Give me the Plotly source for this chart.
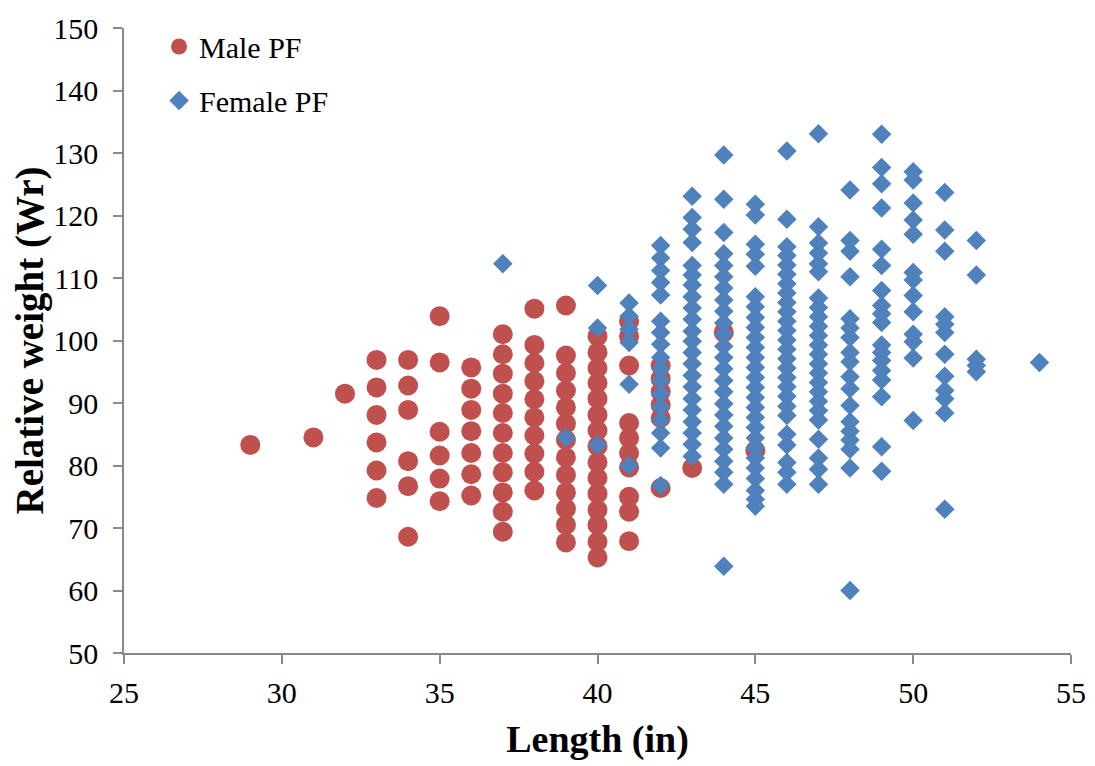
import plotly.graph_objects as go

# ---- data ----
male_lengths = [29, 31, 32, 33, 34, 35, 36, 37, 38, 39, 40, 41, 42, 43, 44, 45]
male_wr = [
    [83.3],
    [84.5],
    [91.5],
    [96.9, 92.5, 88.1, 83.7, 79.2, 74.8],
    [96.9, 92.8, 88.9, 80.7, 76.7, 68.6],
    [103.9, 96.5, 85.4, 81.6, 77.9, 74.3],
    [95.7, 92.3, 88.9, 85.5, 82.0, 78.6, 75.2],
    [101.0, 97.8, 94.7, 91.5, 88.4, 85.2, 82.0, 78.9, 75.7, 72.6, 69.4],
    [105.1, 99.3, 96.4, 93.5, 90.6, 87.7, 84.8, 81.9, 79.0, 76.0],
    [105.6, 97.6, 94.8, 92.0, 89.3, 86.7, 84.1, 81.3, 78.5, 75.7, 73.1, 70.5, 67.7],
    [100.7, 98.1, 95.6, 93.2, 90.7, 88.1, 85.6, 83.1, 80.5, 78.0, 75.5, 72.9, 70.5, 67.8, 65.3],
    [103.1, 100.7, 96.0, 86.8, 84.4, 82.0, 79.7, 75.0, 72.6, 67.9],
    [96.0, 93.9, 91.8, 89.7, 87.6, 76.4],
    [79.6],
    [101.3],
    [82.4],
]

female_lengths = [37, 39, 40, 41, 42, 43, 44, 45, 46, 47, 48, 49, 50, 51, 52, 54]
female_wr = [
    [112.3],
    [84.5],
    [108.8, 102.0, 83.3],
    [106.0, 103.9, 101.8, 99.7, 93.0, 80.0],
    [115.2, 113.2, 111.2, 109.3, 107.3, 103.1, 101.3, 99.4, 97.3, 95.5, 93.6, 91.5,
     89.4, 87.3, 85.2, 82.8, 76.8],
    [123.1, 119.7, 117.8, 115.7, 112.0, 110.5, 108.9, 107.0, 105.2, 103.4, 101.5,
     99.9, 98.1, 96.3, 94.4, 92.6, 90.7, 88.9, 87.0, 85.2, 83.4, 81.5],
    [129.7, 122.6, 117.3, 113.9, 112.0, 110.2, 108.4, 106.5, 104.7, 102.8, 101.0,
     99.1, 97.3, 95.5, 93.6, 91.8, 89.9, 88.1, 86.3, 84.4, 82.6, 80.7, 78.9, 77.0, 63.9],
    [121.8, 120.1, 115.4, 113.8, 111.9, 107.0, 105.4, 103.7, 102.1, 100.5, 98.9,
     97.3, 95.7, 94.1, 92.5, 90.9, 89.3, 87.7, 86.1, 84.4, 82.8, 81.2, 79.6, 77.9,
     76.0, 74.6, 73.5],
    [130.3, 119.4, 115.0, 113.6, 112.1, 110.6, 109.1, 107.6, 106.1, 104.6, 103.1,
     101.6, 100.1, 98.6, 97.1, 95.6, 94.1, 92.6, 91.1, 89.5, 88.0, 85.0, 83.3, 80.5,
     78.9, 77.0],
    [133.1, 118.2, 115.6, 114.0, 112.3, 111.0, 106.8, 105.3, 103.8, 102.3, 100.8,
     99.3, 97.8, 96.3, 94.8, 93.3, 91.8, 90.3, 88.8, 87.3, 84.2, 81.2, 79.4, 77.0],
    [124.1, 116.0, 114.3, 110.2, 103.5, 102.0, 100.5, 98.1, 96.6, 94.2, 92.3, 89.6,
     87.0, 85.5, 84.1, 82.6, 79.6, 60.0],
    [133.0, 127.7, 125.1, 121.2, 114.6, 112.0, 108.0, 105.6, 104.3, 102.9, 99.3,
     98.1, 96.8, 95.2, 93.7, 91.0, 83.0, 79.1],
    [127.0, 125.7, 122.0, 119.3, 117.0, 110.9, 109.7, 107.2, 104.6, 101.0, 99.8,
     97.2, 87.2],
    [123.7, 117.7, 114.3, 103.8, 102.6, 101.3, 97.8, 94.3, 92.0, 90.7, 88.4, 73.0],
    [116.0, 110.5, 97.0, 96.0, 95.0],
    [96.5],
]

x_ticks = [25, 30, 35, 40, 45, 50, 55]
y_ticks = [50, 60, 70, 80, 90, 100, 110, 120, 130, 140, 150]


def flatten(lengths, groups):
    xs, ys = [], []
    for L, vals in zip(lengths, groups):
        for v in vals:
            xs.append(L)
            ys.append(v)
    return xs, ys


mx, my = flatten(male_lengths, male_wr)
fx, fy = flatten(female_lengths, female_wr)

FONT = "Times New Roman, Liberation Serif, serif"
RED = "#C0504D"
BLUE = "#4F81BD"
AXIS = "#898989"

fig = go.Figure()
fig.add_trace(go.Scatter(x=mx, y=my, mode="markers", name="Male PF", legendgroup="m",
                         marker=dict(symbol="circle", size=20, color=RED)))
fig.add_trace(go.Scatter(x=fx, y=fy, mode="markers", name="Female PF", legendgroup="f",
                         marker=dict(symbol="diamond", size=15, color=BLUE)))

axis_common = dict(showline=True, linecolor=AXIS, linewidth=1.5, ticks="outside",
                   tickcolor=AXIS, ticklen=9, tickwidth=1.5, showgrid=False,
                   zeroline=False, automargin=False, ticklabeloverflow="allow",
                   tickfont=dict(family=FONT, size=30, color="black"))

fig.update_xaxes(range=[25, 55], tickvals=x_ticks, ticklabelstandoff=3, **axis_common,
                 title=dict(text="<b>Length (in)</b>", font=dict(family=FONT, size=38, color="black"),
                            standoff=18))
fig.update_yaxes(range=[50, 150], tickvals=y_ticks, ticklabelstandoff=9, **axis_common,
                 title=dict(text="<b>Relative weight (Wr)</b>", font=dict(family=FONT, size=39, color="black"),
                            standoff=8))

# page body has an 8px default margin; size and margins compensate for it
fig.update_layout(
    width=1087, height=758,
    margin=dict(l=116, r=24, t=12, b=113),
    plot_bgcolor="white", paper_bgcolor="white",
    font=dict(family=FONT, color="black"),
    legend=dict(x=0.037, y=1.012, xanchor="left", yanchor="top",
                font=dict(family=FONT, size=30, color="black"),
                tracegroupgap=12, traceorder="grouped", bgcolor="rgba(0,0,0,0)"),
)

fig.write_html("out.html")
